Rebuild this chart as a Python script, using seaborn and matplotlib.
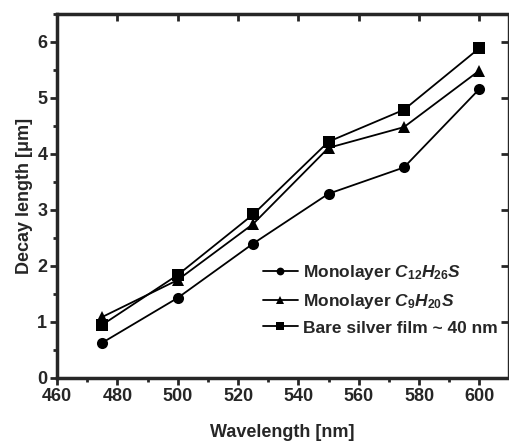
import matplotlib
matplotlib.use("Agg")
import matplotlib.pyplot as plt
import seaborn as sns
import pandas as pd
from matplotlib.ticker import MultipleLocator

wavelength = [475, 500, 525, 550, 575, 600]
c12 = [0.63, 1.43, 2.40, 3.29, 3.76, 5.16]
c9 = [1.09, 1.75, 2.75, 4.11, 4.48, 5.49]
bare = [0.95, 1.84, 2.92, 4.22, 4.79, 5.89]
labels = [r"Monolayer $C_{12}H_{26}S$", r"Monolayer $C_{9}H_{20}S$", "Bare silver film ~ 40 nm"]

sns.set_style("ticks")
plt.rcParams["font.family"] = ["Liberation Sans", "DejaVu Sans"]
plt.rcParams["font.weight"] = "bold"
plt.rcParams["mathtext.fontset"] = "custom"
plt.rcParams["mathtext.it"] = "Liberation Sans:italic:bold"
plt.rcParams["mathtext.rm"] = "Liberation Sans:bold"

fig = plt.figure(figsize=(5.09, 4.41), dpi=100)
ax = fig.add_axes([57 / 509, 1 - 378 / 441, (508 - 57) / 509, (378 - 14) / 441])

series = [(c12, "o", labels[0]), (c9, "^", labels[1]), (bare, "s", labels[2])]
for vals, mk, lab in series:
    df = pd.DataFrame({"Wavelength": wavelength, "Decay": vals})
    sns.lineplot(data=df, x="Wavelength", y="Decay", ax=ax, color="black",
                 marker=mk, markersize=8, linewidth=1.3, markeredgewidth=0,
                 label=lab)

ax.set_xlim(460, 609.5)
ax.set_ylim(0, 6.5)
ax.xaxis.set_major_locator(MultipleLocator(20))
ax.xaxis.set_minor_locator(MultipleLocator(10))
ax.yaxis.set_major_locator(MultipleLocator(1))
ax.yaxis.set_minor_locator(MultipleLocator(0.5))
ax.tick_params(which="major", direction="out", length=5, width=2, labelsize=13, pad=2)
ax.tick_params(which="minor", direction="out", length=3, width=2)
for lab in ax.get_xticklabels() + ax.get_yticklabels():
    lab.set_fontweight("bold")

ax.spines["left"].set_linewidth(2.5)
ax.spines["bottom"].set_linewidth(2.5)
ax.spines["top"].set_linewidth(2.5)
ax.spines["right"].set_linewidth(1.0)

# inward major ticks on top and right
sec_x = ax.secondary_xaxis("top")
sec_x.xaxis.set_major_locator(MultipleLocator(20))
sec_x.tick_params(direction="in", length=5, width=2, labeltop=False)
sec_x.spines["top"].set_visible(False)
sec_y = ax.secondary_yaxis("right")
sec_y.yaxis.set_major_locator(MultipleLocator(1))
sec_y.tick_params(direction="in", length=5, width=2, labelright=False)
sec_y.spines["right"].set_visible(False)

ax.set_xlabel("Wavelength [nm]", fontsize=13, fontweight="bold", labelpad=14)
ax.set_ylabel("Decay length [\u03bcm]", fontsize=13, fontweight="bold", labelpad=3)

leg = ax.legend(loc="lower right", bbox_to_anchor=(1.0, 0.088), frameon=False,
                fontsize=12.5, handlelength=2.0, handletextpad=0.3,
                labelspacing=0.55, borderaxespad=0.2, markerscale=0.7)
for t in leg.get_texts():
    t.set_fontweight("bold")

fig.savefig("out.png", dpi=100)
